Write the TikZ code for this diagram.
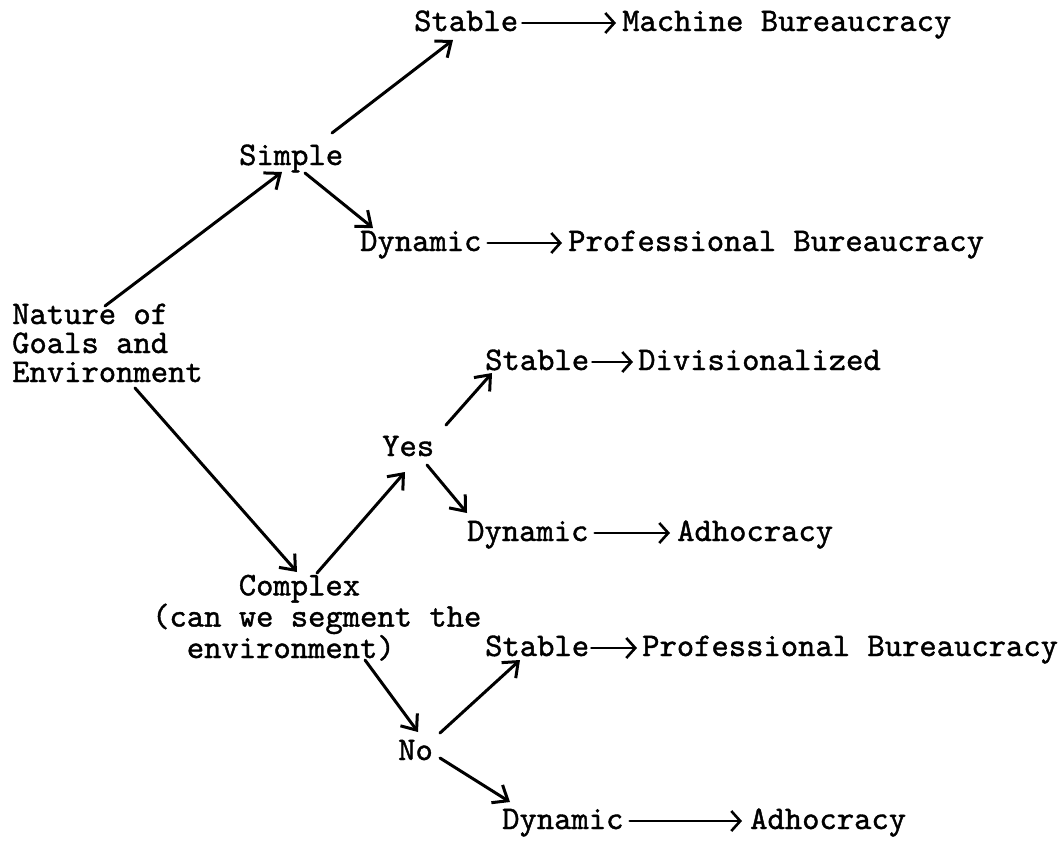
\documentclass[tikz,border=0pt]{standalone}
\usepackage{fontspec}
\newfontfamily\tw{lmmono10-regular.otf}[FakeBold=1.2]
\usetikzlibrary{arrows.meta}
\begin{document}
\begin{tikzpicture}[x=1pt,y=-1pt,
  lbl/.style={anchor=base west, inner sep=0pt, font=\tw\fontsize{33}{29}\selectfont},
  arr/.style={line width=3pt, line cap=round, -{Straight Barb[length=13pt,width=21pt,line width=3pt]}},
  harr/.style={line width=2.6pt, line cap=round, -{Straight Barb[length=9pt,width=20pt,line width=2.6pt]}}]
\useasboundingbox (0,0) rectangle (1064,841);
% labels
\node[lbl] (st1) at (414,31) {Stable};
\node[lbl] (mb) at (622,31) {Machine Bureaucracy};
\node[lbl] (simple) at (239,165) {Simple};
\node[lbl] (dy1) at (360,251) {Dynamic};
\node[lbl] (pb1) at (568,251) {Professional Bureaucracy};
\node[lbl, align=left] (nat) at (12,382) {Nature of\\Goals and\\Environment};
\node[lbl] (st2) at (485,370) {Stable};
\node[lbl] (div) at (638,370) {Divisionalized};
\node[lbl] (yes) at (382,456) {Yes};
\node[lbl] (dy2) at (467,541) {Dynamic};
\node[lbl] (ad1) at (677,541) {Adhocracy};
\node[lbl, align=left] (cpx) at (152,658) {\phantom{(cant}Complex\\(can we segment the\\\phantom{(c}environment)};
\node[lbl] (st3) at (485,656) {Stable};
\node[lbl] (pb2) at (642,656) {Professional Bureaucracy};
\node[lbl] (no) at (398,760) {No};
\node[lbl] (dy3) at (502,829) {Dynamic};
\node[lbl] (ad2) at (750,829) {Adhocracy};
% diagonal connectors
\draw[arr] ([shift={(93,-76)}]nat.base west) -- ([shift={(43,7)}]simple.base west);
\draw[arr] ([shift={(93,-32)}]simple.base west) -- ([shift={(39,9)}]st1.base west);
\draw[arr] ([shift={(66,8)}]simple.base west) -- ([shift={(13,-23)}]dy1.base west);
\draw[arr] ([shift={(123,6)}]nat.base west) -- ([shift={(145,-86)}]cpx.base west);
\draw[arr] ([shift={(165,-85)}]cpx.base west) -- ([shift={(23,16)}]yes.base west);
\draw[arr] ([shift={(64,-31)}]yes.base west) -- ([shift={(7,3)}]st2.base west);
\draw[arr] ([shift={(45,9)}]yes.base west) -- ([shift={(0,-28)}]dy2.base west);
\draw[arr] ([shift={(213,2)}]cpx.base west) -- ([shift={(20,-28)}]no.base west);
\draw[arr] ([shift={(42,-27)}]no.base west) -- ([shift={(35,4)}]st3.base west);
\draw[arr] ([shift={(42,-2)}]no.base west) -- ([shift={(8,-27)}]dy3.base west);
% horizontal connectors
\draw[harr] ([shift={(4,-8)}]st1.base east) -- ([shift={(-6,-8)}]mb.base west);
\draw[harr] ([shift={(6,-8)}]dy1.base east) -- ([shift={(-6,-8)}]pb1.base west);
\draw[harr] ([shift={(3,-8)}]st2.base east) -- ([shift={(-5,-8)}]div.base west);
\draw[harr] ([shift={(6,-8)}]dy2.base east) -- ([shift={(-7,-8)}]ad1.base west);
\draw[harr] ([shift={(2,-8)}]st3.base east) -- ([shift={(-5,-8)}]pb2.base west);
\draw[harr] ([shift={(6,-8)}]dy3.base east) -- ([shift={(-8,-8)}]ad2.base west);
\end{tikzpicture}
\end{document}
